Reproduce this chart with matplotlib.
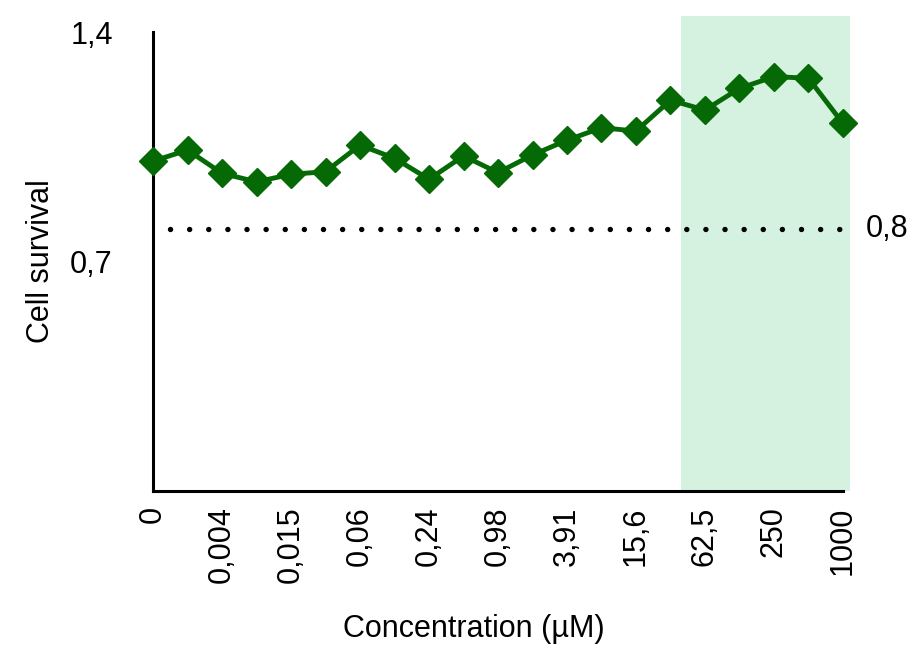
import matplotlib
matplotlib.use("Agg")
import matplotlib.pyplot as plt
import numpy as np

plt.rcParams['font.family'] = ['Liberation Sans', 'DejaVu Sans']

# serial dilution, 21 concentrations (µM)
conc_labels = ["0", "0,002", "0,004", "0,008", "0,015", "0,03", "0,06", "0,12",
               "0,24", "0,49", "0,98", "1,95", "3,91", "7,8", "15,6", "31,25",
               "62,5", "125", "250", "500", "1000"]
survival = [1.006, 1.040, 0.969, 0.943, 0.966, 0.974, 1.055, 1.015, 0.951,
            1.022, 0.971, 1.025, 1.070, 1.108, 1.098, 1.192, 1.162, 1.228,
            1.264, 1.259, 1.121]
threshold = 0.8
shade_start = 15.3   # highlighted range on the dilution axis
shade_end = 20.2

green = '#056a05'
shade = '#d5f2e0'
fs = 22

fig = plt.figure(figsize=(9.23, 6.51), dpi=100)
ax = fig.add_axes([0.1658, 0.2458, 0.7475, 0.705])

x = np.arange(len(survival))

# shaded window, runs a little past the plot frame
ax.fill_between([shade_start, shade_end], 0, 1.45, color=shade, lw=0,
                clip_on=False, zorder=0)

ax.plot(x, survival, color=green, lw=3.5, marker='D', ms=14,
        mec=green, mfc=green, clip_on=False, zorder=3)

# survival cut-off
ax.hlines(threshold, 0.5, 20.0, colors='black', lw=3.9,
          linestyles=(0, (0.01, 3.52)), capstyle='round', zorder=2)
ax.text(20.65, threshold, "0,8", fontsize=fs, ha='left', va='center')

ax.set_xlim(0, len(survival) - 1)
ax.set_ylim(0, 1.4)
ax.set_yticks([0.7, 1.4])
ax.set_yticklabels(["0,7", "1,4"])
ax.set_xticks(x[::2])
ax.set_xticklabels(conc_labels[::2], rotation=90)
ax.tick_params(axis='y', length=0, pad=29, labelsize=fs)
ax.tick_params(axis='x', length=0, pad=11, labelsize=fs)

for side in ['top', 'right']:
    ax.spines[side].set_visible(False)
for side in ['left', 'bottom']:
    ax.spines[side].set_linewidth(2.2)

ax.set_ylabel("Cell survival", fontsize=fs)
ax.yaxis.set_label_coords(-0.14, 0.5)
ax.set_xlabel("Concentration (µM)", fontsize=fs)
ax.xaxis.set_label_coords(0.465, -0.268)

fig.savefig("out.png", dpi=100)
